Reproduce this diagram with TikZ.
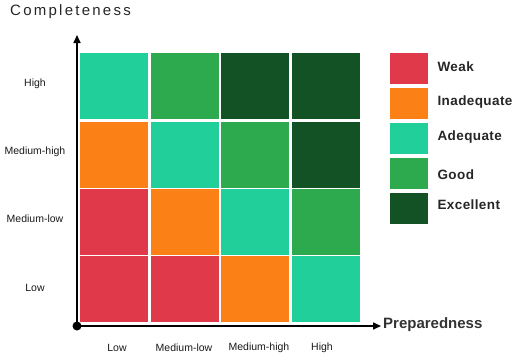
\documentclass[tikz,border=0pt]{standalone}
\usepackage{fontspec}
\setmainfont{Liberation Sans}
\usetikzlibrary{arrows.meta}
\definecolor{cweak}{HTML}{E03A4A}
\definecolor{cinad}{HTML}{FB8016}
\definecolor{cadeq}{HTML}{20CF9A}
\definecolor{cgood}{HTML}{2EAA4E}
\definecolor{cexc}{HTML}{125225}
\begin{document}
\begin{tikzpicture}[x=1pt,y=-1pt,
  cell/.style={minimum width=68pt,minimum height=66pt,inner sep=0pt,anchor=north west},
  legbox/.style={minimum width=38pt,minimum height=31pt,inner sep=0pt,anchor=north west},
  leglab/.style={anchor=west,font=\bfseries\fontsize{13.5}{15}\selectfont\addfontfeatures{LetterSpace=3},text=black!85},
  axlab/.style={font=\fontsize{10.5}{12}\selectfont,text=black!90},
  axis/.style={line width=1.6pt,-{Triangle[length=8pt,width=7pt]}}]
\useasboundingbox (0,0) rectangle (522,359);
% grid
\foreach \c [count=\i from 0] in {cadeq,cgood,cexc,cexc}
  \node[cell,fill=\c] (r1c\i) at ({80+\i*70.5},53) {};
\foreach \c [count=\i from 0] in {cinad,cadeq,cgood,cexc}
  \node[cell,fill=\c] (r2c\i) at ({80+\i*70.5},122) {};
\foreach \c [count=\i from 0] in {cweak,cinad,cadeq,cgood}
  \node[cell,fill=\c] (r3c\i) at ({80+\i*70.5},189) {};
\foreach \c [count=\i from 0] in {cweak,cweak,cinad,cadeq}
  \node[cell,fill=\c] (r4c\i) at ({80+\i*70.5},256) {};
% axes
\coordinate (o) at (77,326);
\coordinate (ytip) at (77,35);
\coordinate (xtip) at (381,326);
\draw[axis] (o) -- (ytip);
\draw[axis] (o) -- (xtip);
\fill (o) circle (4.5pt);
% titles
\node[anchor=west,inner sep=0pt,font=\fontsize{15}{17}\selectfont\addfontfeatures{LetterSpace=15},text=black!85] (ttl) at (10,12) {Completeness};
\node[anchor=west,inner sep=0pt,font=\bfseries\fontsize{15}{17}\selectfont,text=black!80] (prep) at (383,325) {Preparedness};
% row labels
\node[axlab] (lh) at (35,84) {High};
\node[axlab] (lmh) at (35,152) {Medium-high};
\node[axlab] (lml) at (35,219) {Medium-low};
\node[axlab] (ll) at (35,288) {Low};
% column labels
\node[axlab] (cl) at (117,348) {Low};
\node[axlab] (cml) at (184,348) {Medium-low};
\node[axlab] (cmh) at (259,348) {Medium-high};
\node[axlab] (ch) at (322,348) {High};
% legend
\node[legbox,fill=cweak] (g1) at (390,53) {};
\node[legbox,fill=cinad] (g2) at (390,88) {};
\node[legbox,fill=cadeq] (g3) at (390,123) {};
\node[legbox,fill=cgood] (g4) at (390,158) {};
\node[legbox,fill=cexc] (g5) at (390,193) {};
\node[leglab] at (434,67) {Weak};
\node[leglab] at (434,102) {Inadequate};
\node[leglab] at (434,137) {Adequate};
\node[leglab] at (434,175) {Good};
\node[leglab] at (434,205) {Excellent};
\end{tikzpicture}
\end{document}
